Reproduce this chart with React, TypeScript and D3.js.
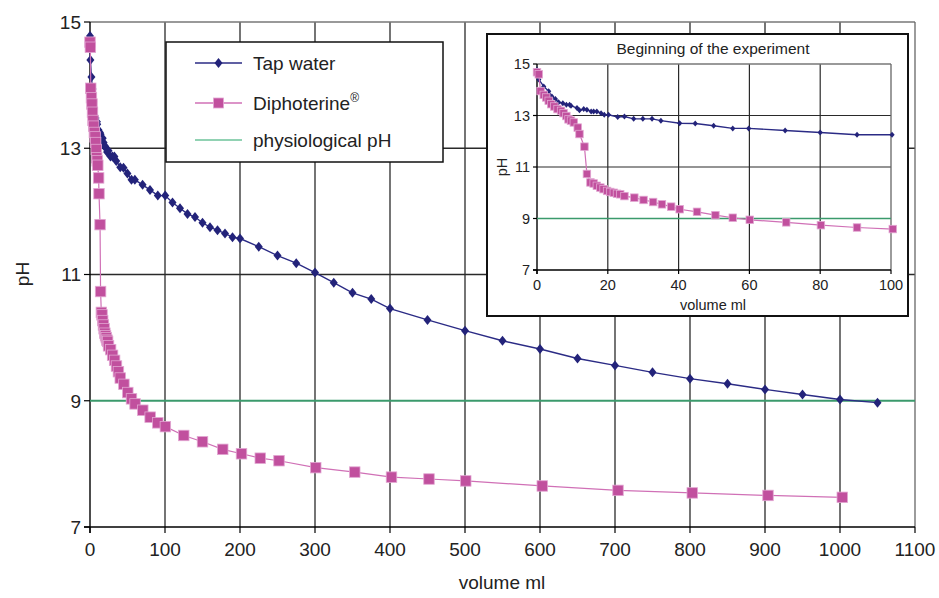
import React from "react";
import * as d3 from "d3";

// tap water rinse: volume (ml) and pH
const tapVolume = [
  0, 0.5, 1.9, 3.3, 4.2, 5.2, 6.1, 7.3, 8.3, 9.2, 9.6, 11.3, 12, 13.2, 14.1, 15.3, 16, 16.9, 18.1, 19,
  20.2, 22.8, 24.7, 27.3, 29.9, 32.5, 35, 40.3, 44.7, 49.9, 55.3, 59.8, 70.1, 80, 90.4, 100.3, 110, 120,
  130, 140, 150, 160, 170, 180, 190, 200, 225, 250, 275, 300, 325, 350, 375, 400, 450, 500, 550, 600,
  650, 700, 750, 800, 850, 900, 950, 1000, 1050,
];
const tapPH = [
  14.78, 14.4, 14.13, 13.94, 13.74, 13.64, 13.51, 13.48, 13.42, 13.42, 13.38, 13.29, 13.2, 13.25, 13.22,
  13.16, 13.16, 13.16, 13.09, 13.03, 13.03, 12.94, 12.96, 12.87, 12.87, 12.87, 12.8, 12.7, 12.69, 12.6,
  12.5, 12.5, 12.42, 12.34, 12.25, 12.25, 12.14, 12.05, 11.96, 11.91, 11.82, 11.75, 11.7, 11.65, 11.59,
  11.57, 11.44, 11.3, 11.18, 11.03, 10.87, 10.71, 10.61, 10.46, 10.28, 10.11, 9.95, 9.82, 9.67, 9.56,
  9.45, 9.35, 9.27, 9.18, 9.1, 9.02, 8.97,
];

// Diphoterine rinse: volume (ml) and pH
const diphVolume = [
  0, 0.5, 1, 1.9, 2.6, 3.3, 4, 4.9, 5.8, 6.8, 7.5, 8.3, 8.9, 9.6, 10.4, 11.5, 12, 13.4, 14.1, 15.1, 16,
  16.9, 17.9, 18.8, 19.8, 20.7, 21.7, 22.6, 23.5, 24.7, 27.5, 30.1, 32.8, 35.3, 37.9, 40.3, 45.2, 50.4,
  55.3, 60.1, 70.4, 80.2, 90.4, 100.5, 125, 150, 177, 202, 227, 252, 301, 353, 402, 452, 501, 603, 704,
  803, 904, 1003,
];
const diphPH = [
  14.68, 14.6, 13.95, 13.8, 13.7, 13.57, 13.44, 13.35, 13.25, 13.18, 13.09, 12.98, 12.85, 12.8, 12.73,
  12.53, 12.28, 11.79, 10.73, 10.4, 10.36, 10.27, 10.2, 10.14, 10.07, 10.03, 10.0, 9.96, 9.94, 9.87,
  9.81, 9.72, 9.64, 9.55, 9.46, 9.36, 9.26, 9.13, 9.03, 8.95, 8.85, 8.74, 8.65, 8.59, 8.45, 8.35, 8.23,
  8.16, 8.09, 8.05, 7.94, 7.87, 7.79, 7.76, 7.73, 7.65, 7.58, 7.54, 7.5, 7.47,
];

const physiologicalPH = 9;

const mainXTicks = [0, 100, 200, 300, 400, 500, 600, 700, 800, 900, 1000, 1100];
const insetXTicks = [0, 20, 40, 60, 80, 100];
const yTicks = [7, 9, 11, 13, 15];

const seriesNames = ["Tap water", "Diphoterine", "physiological pH"];
const insetTitle = "Beginning of the experiment";

const FONT = "'Liberation Sans', Arial, sans-serif";
const TAP_FILL = "#23237a";
const TAP_LINE = "#2b2b85";
const DIPH_FILL = "#c1509e";
const DIPH_EDGE = "#e2a6d2";
const DIPH_LINE = "#d070b6";
const GREEN = "#3b9a6c";
const GRID = "#2a2a2a";

type Pt = [number, number];

const tapData: Pt[] = tapVolume.map((v, i) => [v, tapPH[i]]);
const diphData: Pt[] = diphVolume.map((v, i) => [v, diphPH[i]]);

function diamond(cx: number, cy: number, w: number, h: number) {
  return `M${cx},${cy - h}L${cx + w},${cy}L${cx},${cy + h}L${cx - w},${cy}Z`;
}

function Panel({
  x0, x1, y0, y1, xMax, xTicks, font, tick, labelGap, grid, diamondW, diamondH, square, greenW,
}: {
  x0: number; x1: number; y0: number; y1: number; xMax: number; xTicks: number[]; font: number;
  tick: number; labelGap: number; grid: number; diamondW: number; diamondH: number; square: number; greenW: number;
}) {
  const x = d3.scaleLinear().domain([0, xMax]).range([x0, x1]);
  const y = d3.scaleLinear().domain([7, 15]).range([y1, y0]);
  const line = d3.line<Pt>().x((d) => x(d[0])).y((d) => y(d[1]));
  const tap = tapData.filter((d) => d[0] <= xMax + 1);
  const diph = diphData.filter((d) => d[0] <= xMax + 1);
  return (
    <g>
      {/* grid */}
      {xTicks.slice(1, -1).map((t) => (
        <line key={"gx" + t} x1={x(t)} x2={x(t)} y1={y0} y2={y1} stroke={GRID} strokeWidth={grid} />
      ))}
      {[11, 13].map((t) => (
        <line key={"gy" + t} x1={x0} x2={x1} y1={y(t)} y2={y(t)} stroke={GRID} strokeWidth={grid} />
      ))}
      <line x1={x0} x2={x1} y1={y0} y2={y0} stroke="#777" strokeWidth={1.3} />
      <line x1={x1} x2={x1} y1={y0} y2={y1} stroke="#666" strokeWidth={1.3} />
      {/* axes */}
      <line x1={x0} x2={x0} y1={y0} y2={y1 + tick} stroke="#000" strokeWidth={1.4} />
      <line x1={x0 - tick} x2={x1} y1={y1} y2={y1} stroke="#000" strokeWidth={1.4} />
      {yTicks.map((t) => (
        <g key={"yt" + t}>
          <line x1={x0 - tick} x2={x0} y1={y(t)} y2={y(t)} stroke="#000" strokeWidth={1.2} />
          <text x={x0 - tick - 3} y={y(t)} dy="0.36em" textAnchor="end" fontSize={font} fill="#222">
            {t}
          </text>
        </g>
      ))}
      {xTicks.map((t) => (
        <g key={"xt" + t}>
          <line x1={x(t)} x2={x(t)} y1={y1} y2={y1 + tick} stroke="#000" strokeWidth={1.2} />
          <text x={x(t)} y={y1 + tick + labelGap} textAnchor="middle" fontSize={font} fill="#222">
            {t}
          </text>
        </g>
      ))}
      {/* physiological pH */}
      <line x1={x0} x2={x1} y1={y(physiologicalPH)} y2={y(physiologicalPH)} stroke={GREEN} strokeWidth={greenW} />
      {/* tap water */}
      <path d={line(tap) || ""} fill="none" stroke={TAP_LINE} strokeWidth={1.4} />
      {tap.map((d, i) => (
        <path key={"tp" + i} d={diamond(x(d[0]), y(d[1]), diamondW, diamondH)} fill={TAP_FILL} />
      ))}
      {/* Diphoterine */}
      <path d={line(diph) || ""} fill="none" stroke={DIPH_LINE} strokeWidth={1.2} />
      {diph.map((d, i) => (
        <rect
          key={"dp" + i}
          x={x(d[0]) - square / 2}
          y={y(d[1]) - square / 2}
          width={square}
          height={square}
          fill={DIPH_FILL}
          stroke={DIPH_EDGE}
          strokeWidth={0.8}
        />
      ))}
    </g>
  );
}

export default function App() {
  return (
    <svg
      width={939}
      height={598}
      style={{ position: "absolute", left: 0, top: 0, background: "#fff" }}
      fontFamily={FONT}
    >
      <rect width={939} height={598} fill="#fff" />
      <Panel
        x0={90} x1={915} y0={22} y1={527} xMax={1100} xTicks={mainXTicks} font={19} tick={6}
        labelGap={23} grid={1.3} diamondW={4} diamondH={5} square={10.5} greenW={2}
      />
      <text x={502} y={589} textAnchor="middle" fontSize={19} fill="#222">volume ml</text>
      <text transform="translate(29,274) rotate(-90)" textAnchor="middle" fontSize={19} fill="#222">pH</text>

      {/* legend */}
      <rect x={166} y={42} width={277} height={120} fill="#fff" stroke="#111" strokeWidth={1.5} />
      <line x1={195} x2={242} y1={63} y2={63} stroke={TAP_LINE} strokeWidth={1.6} />
      <path d={diamond(218.5, 63, 4, 5)} fill={TAP_FILL} />
      <text x={253} y={70} fontSize={19} fill="#222">{seriesNames[0]}</text>
      <line x1={195} x2={242} y1={103} y2={103} stroke={DIPH_LINE} strokeWidth={1.6} />
      <rect x={213.5} y={98} width={10} height={10} fill={DIPH_FILL} stroke={DIPH_EDGE} strokeWidth={0.8} />
      <text x={253} y={110} fontSize={19} fill="#222">
        {seriesNames[1]}
        <tspan fontSize={12} dy={-8}>®</tspan>
      </text>
      <line x1={195} x2={242} y1={140} y2={140} stroke="#6cc39a" strokeWidth={1.6} />
      <text x={253} y={147} fontSize={19} fill="#222">{seriesNames[2]}</text>

      {/* inset */}
      <rect x={487} y={34} width={421} height={282} fill="#fff" stroke="#111" strokeWidth={2} />
      <text x={713} y={54} textAnchor="middle" fontSize={15.5} fill="#222">{insetTitle}</text>
      <Panel
        x0={537} x1={891} y0={64} y1={270} xMax={100} xTicks={insetXTicks} font={14.5} tick={4}
        labelGap={16} grid={1.2} diamondW={2.6} diamondH={3} square={7.5} greenW={1.6}
      />
      <text x={713} y={310} textAnchor="middle" fontSize={14.5} fill="#222">volume ml</text>
      <text transform="translate(507,167) rotate(-90)" textAnchor="middle" fontSize={14.5} fill="#222">pH</text>
    </svg>
  );
}
